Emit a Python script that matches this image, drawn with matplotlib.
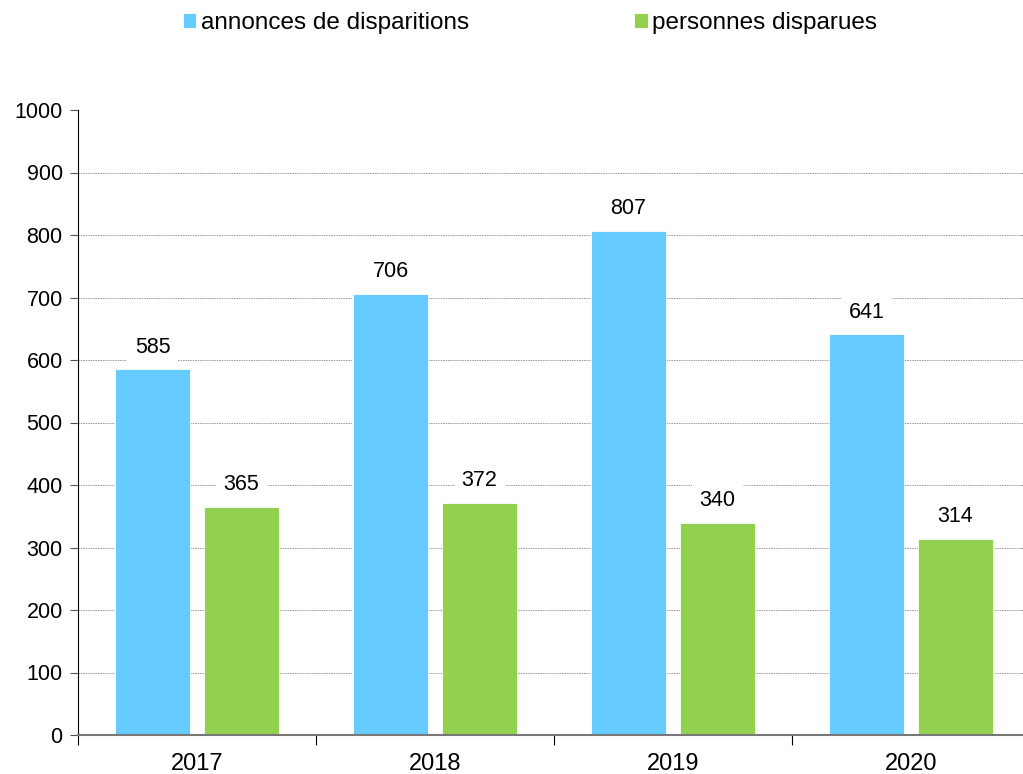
import numpy as np
import matplotlib.pyplot as plt
from matplotlib.ticker import FixedLocator

plt.rcParams['font.family'] = ['Liberation Sans', 'DejaVu Sans']

# data
years = ['2017', '2018', '2019', '2020']
annonces = [585, 706, 807, 641]
personnes = [365, 372, 340, 314]
series_names = ['annonces de disparitions', 'personnes disparues']

blue = '#66CCFF'
green = '#92D050'

fig = plt.figure(figsize=(10.23, 7.74), dpi=100)
ax = fig.add_axes([78 / 1023, 1 - 735 / 774, 952 / 1023, 625 / 774])

x = np.arange(len(years)) + 0.5
w = 0.311
off = 0.187

b1 = ax.bar(x - off, annonces, w, color=blue, edgecolor='white', linewidth=0.6,
            label=series_names[0], zorder=2)
b2 = ax.bar(x + off, personnes, w, color=green, edgecolor='white', linewidth=0.6,
            label=series_names[1], zorder=2)

# value labels with white boxes over the grid
for bars in (b1, b2):
    for rect in bars:
        h = rect.get_height()
        ax.annotate(f'{h:.0f}', (rect.get_x() + rect.get_width() / 2, h),
                    xytext=(0, 16), textcoords='offset points',
                    ha='center', va='center', fontsize=15.5, zorder=4,
                    bbox=dict(boxstyle='square,pad=0.35', fc='white', ec='none'))

ax.set_ylim(0, 1000)
ax.set_xlim(0, len(years))
ax.set_yticks(np.arange(0, 1001, 100))
ax.tick_params(axis='y', labelsize=15.5, length=6, color='#555555', direction='out', pad=5)

# category boundaries as ticks, labels at centres
ax.xaxis.set_major_locator(FixedLocator(np.arange(len(years) + 1)))
ax.xaxis.set_minor_locator(FixedLocator(x))
ax.set_xticklabels([])
ax.set_xticklabels(years, minor=True)
ax.tick_params(axis='x', which='major', length=7, color='black', direction='out')
ax.tick_params(axis='x', which='minor', length=0, labelsize=17, pad=13)

for yv in range(100, 1000, 100):
    ax.axhline(yv, color='#999999', linestyle=(0, (1.5, 1)), linewidth=0.7, zorder=1)

ax.spines['top'].set_visible(False)
ax.spines['right'].set_visible(False)
ax.spines['left'].set_color('black')
ax.spines['bottom'].set_color('#777777')
ax.spines['bottom'].set_linewidth(1.5)
ax.spines['bottom'].set_zorder(3)

fig.legend(handles=[b1, b2], labels=series_names, loc='center',
           bbox_to_anchor=(530 / 1023, 1 - 23 / 774), ncol=2, frameon=False,
           fontsize=17.5, handlelength=0.55, handleheight=0.55, handletextpad=0.2,
           columnspacing=6.8, borderpad=0)

fig.savefig('out.png', dpi=100)
